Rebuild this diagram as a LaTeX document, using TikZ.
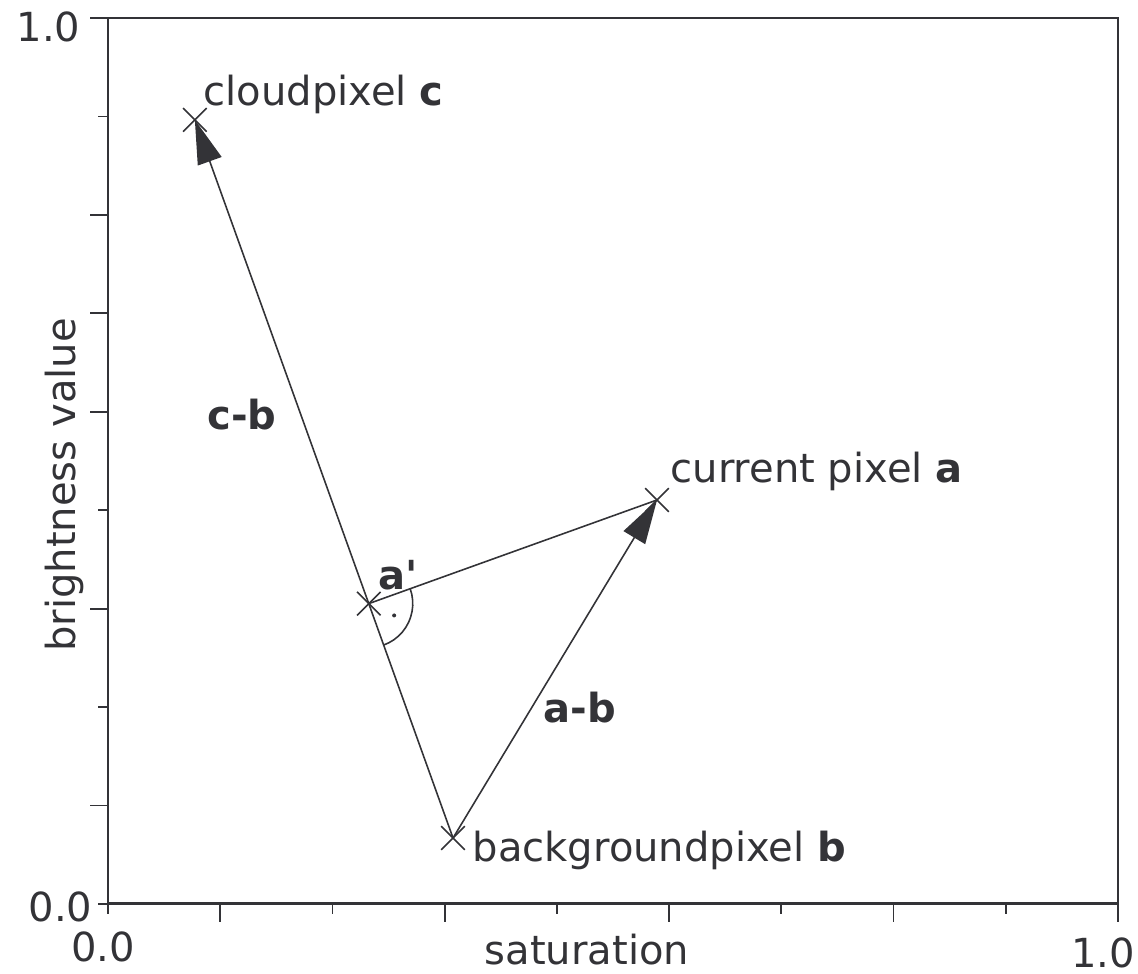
\documentclass[tikz,border=0pt]{standalone}
\usepackage{fontspec}
\setmainfont{DejaVu Sans}
\usepackage{tikz}
\usetikzlibrary{arrows.meta, calc, shapes.misc, angles}
\definecolor{inkgray}{HTML}{333337}

\begin{document}
\begin{tikzpicture}[
  x=10.1cm, y=8.86cm,
  every node/.style={font=\fontsize{11.4}{13}\selectfont, text=inkgray,
                     inner sep=0pt},
  axln/.style={draw=inkgray, line width=0.85pt},
  frm/.style ={draw=inkgray, line width=0.6pt},
  tck/.style ={draw=inkgray, line width=0.5pt},
  mk/.style  ={cross out, draw=inkgray, line width=0.45pt,
               minimum size=0.22cm, inner sep=0pt},
  seg/.style ={draw=inkgray, line width=0.45pt},
  vec/.style ={seg, -{Triangle[length=4.4mm, width=2.5mm]}},
  lbl/.style ={anchor=base west},
  vlb/.style ={anchor=base, font=\fontsize{11.4}{13}\selectfont\bfseries}
]
\useasboundingbox (-1.08cm,-0.70cm) rectangle (10.30cm,9.04cm);

%% ─── frame and ticks ───────────────────────────────────────────────────────
\draw[frm]  (0,1) -- (1,1) -- (1,0);
\draw[axln] (0,1) -- (0,0) -- (1,0);

\foreach \k/\len in {0/0.10, 1/0.18, 2/0.10, 3/0.18, 4/0.10,
                     5/0.18, 6/0.10, 7/0.18, 8/0.10, 9/0.18}
  \draw[tck] (\k/9,0) -- ++(0,-\len cm);
\foreach \k/\len in {0/0.10, 1/0.18, 2/0.10, 3/0.18, 4/0.10,
                     5/0.18, 6/0.18, 7/0.18, 8/0.10, 9/0.18}
  \draw[tck] (0,\k/9) -- ++(-\len cm,0);

\node[anchor=base east] (y1)  at (-0.27cm, 8.62cm) {1.0};
\node[anchor=base east] (y0)  at (-0.15cm,-0.18cm) {0.0};
\node[anchor=base]      (x0)  at (-0.05cm,-0.58cm) {0.0};
\node[anchor=base]      (x1)  at ( 9.95cm,-0.64cm) {1.0};
\node[anchor=base]      (xt)  at ( 4.79cm,-0.61cm) {saturation};
\node[anchor=base, rotate=90] (yt) at (-0.33cm, 4.19cm) {brightness value};

%% ─── pixels ────────────────────────────────────────────────────────────────
\node[mk] (c)  at (0.086, 0.885)  {};
\node[mk] (b)  at (0.3416,0.0745) {};
\node[mk] (a)  at (0.5436,0.456)  {};
\node[mk] (ap) at ($(b.center)!(a.center)!(c.center)$) {};

\draw[vec] (b.center)  -- (c.center);
\draw[vec] (b.center)  -- (a.center);
\draw[seg] (ap.center) -- (a.center);

\pic[seg, angle radius=0.44cm] {angle = b--ap--a};
\node[circle, fill=inkgray, minimum size=0.04cm] (rdot)
  at ([shift={(-25:0.28cm)}]ap.center) {};

%% ─── labels ────────────────────────────────────────────────────────────────
\node[lbl] (c_l) at (0.95cm, 7.98cm) {cloudpixel \textbf{c}};
\node[lbl] (a_l) at (5.62cm, 4.21cm) {current pixel \textbf{a}};
\node[lbl] (b_l) at (3.64cm, 0.42cm) {backgroundpixel \textbf{b}};
\node[lbl, font=\fontsize{11.4}{13}\selectfont\bfseries]
           (ap_l) at (2.70cm, 3.14cm) {a\textquotesingle};
\node[vlb] (cb_l) at (1.34cm, 4.74cm) {c-b};
\node[vlb] (ab_l) at (4.72cm, 1.81cm) {a-b};

\end{tikzpicture}
\end{document}
